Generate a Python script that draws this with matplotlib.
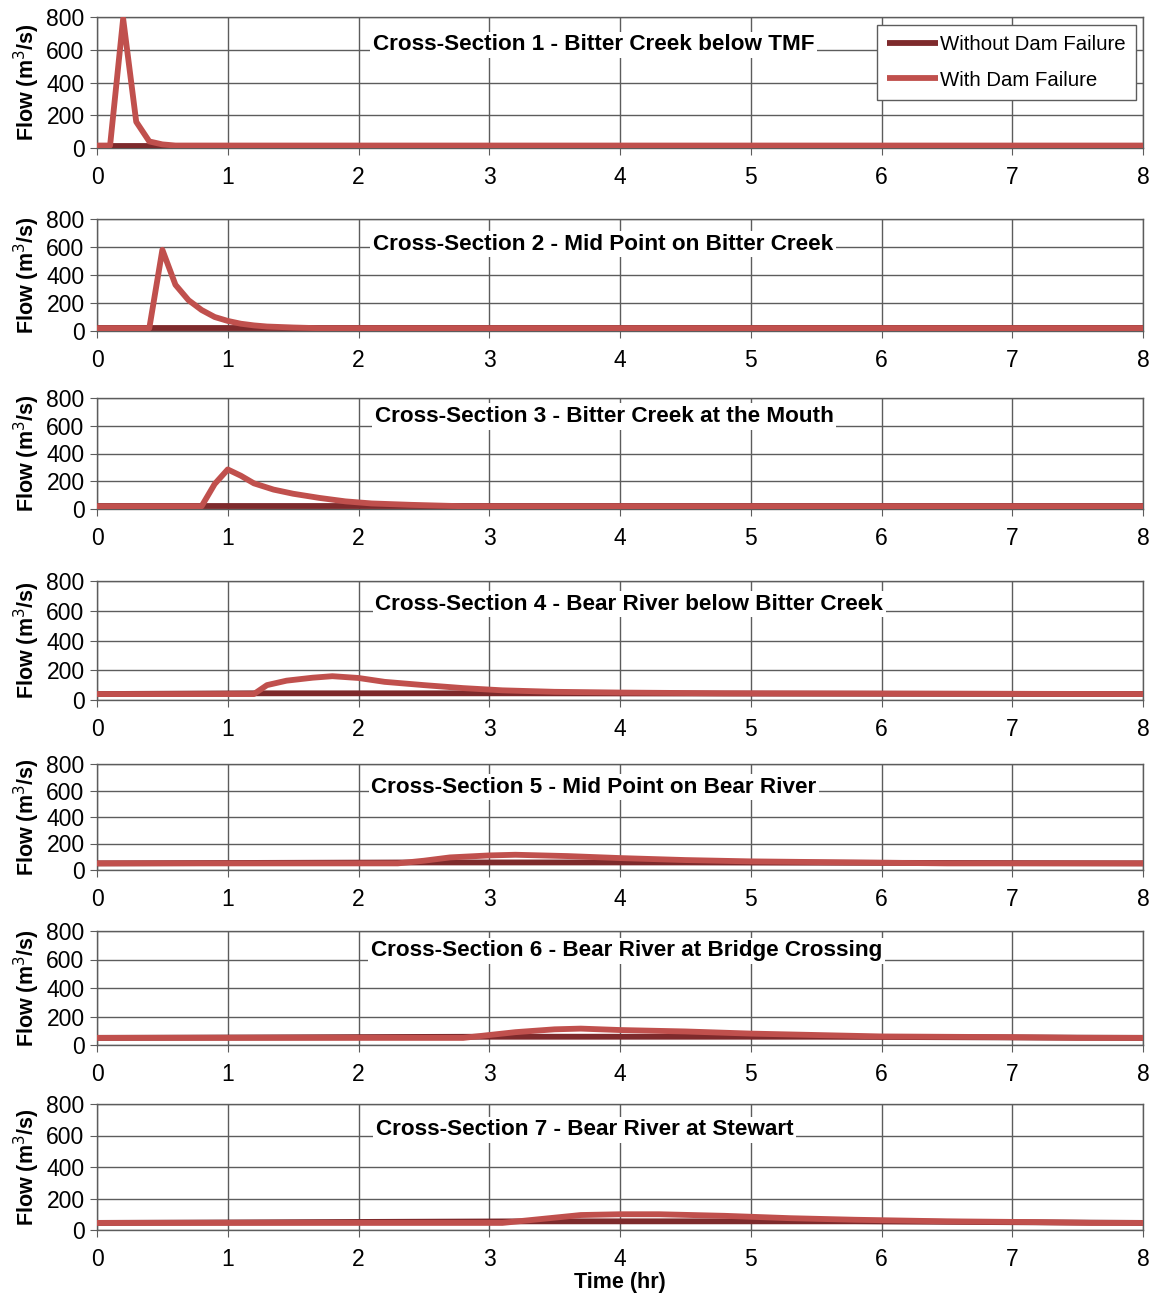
"""Flow hydrographs at 7 cross-sections, with and without dam failure."""
import numpy as np
import matplotlib
matplotlib.use("Agg")
import matplotlib.pyplot as plt

plt.rcParams["font.family"] = ["Liberation Sans", "DejaVu Sans"]

TITLES = [
    "Cross-Section 1 - Bitter Creek below TMF",
    "Cross-Section 2 - Mid Point on Bitter Creek",
    "Cross-Section 3 - Bitter Creek at the Mouth",
    "Cross-Section 4 - Bear River below Bitter Creek",
    "Cross-Section 5 - Mid Point on Bear River",
    "Cross-Section 6 - Bear River at Bridge Crossing",
    "Cross-Section 7 - Bear River at Stewart",
]

# with dam failure (t hr, Q m3/s)
T_WITH = [
    [0, 0.1, 0.2, 0.3, 0.4, 0.5, 0.6, 8],
    [0, 0.4, 0.5, 0.6, 0.7, 0.8, 0.9, 1.0, 1.1, 1.2, 1.3, 1.5, 1.7, 8],
    [0, 0.8, 0.9, 1.0, 1.1, 1.2, 1.35, 1.5, 1.7, 1.9, 2.1, 2.4, 2.8, 8],
    [0, 1.2, 1.3, 1.45, 1.65, 1.8, 2.0, 2.2, 2.5, 2.8, 3.1, 3.5, 4.0, 4.8, 8],
    [0, 2.3, 2.5, 2.7, 3.0, 3.2, 3.6, 4.0, 4.5, 5.0, 5.5, 6.0, 6.5, 8],
    [0, 2.8, 2.9, 3.2, 3.5, 3.7, 4.0, 4.5, 5.0, 5.5, 6.0, 7.0, 7.5, 8],
    [0, 3.1, 3.4, 3.7, 4.0, 4.3, 4.8, 5.3, 5.8, 6.5, 7.2, 7.6, 8],
]
Q_WITH = [
    [15, 15, 790, 160, 40, 22, 15, 15],
    [20, 20, 580, 330, 220, 150, 100, 72, 52, 40, 32, 25, 20, 20],
    [20, 20, 180, 285, 240, 185, 140, 110, 80, 55, 40, 30, 20, 20],
    [40, 40, 100, 130, 150, 160, 148, 122, 100, 80, 65, 55, 50, 45, 40],
    [50, 50, 70, 95, 110, 115, 105, 90, 75, 65, 60, 55, 50, 50],
    [50, 50, 60, 90, 110, 115, 105, 95, 80, 70, 60, 55, 50, 50],
    [45, 45, 70, 95, 100, 100, 90, 75, 65, 55, 50, 45, 45],
]

# without dam failure
T_WITHOUT = [
    [0, 0.45, 8],
    [0, 1.3, 8],
    [0, 2.2, 8],
    [0, 1.2, 3.2, 8],
    [0, 2.5, 4.5, 8],
    [0, 3.0, 5.5, 8],
    [0, 3.3, 5.8, 8],
]
Q_WITHOUT = [
    [15, 15, 15],
    [20, 20, 20],
    [20, 20, 20],
    [40, 45, 45, 40],
    [50, 57, 57, 50],
    [50, 58, 58, 50],
    [45, 55, 55, 45],
]

# pixel layout (top, bottom of each axes)
AX_PX = [(17, 148), (219, 331), (398, 509), (581, 700),
         (764, 870), (931, 1045), (1104, 1230)]
TITLE_POS = [(3.8, 630), (3.87, 620), (3.88, 668), (4.07, 645),
             (3.8, 626), (4.05, 660), (3.73, 635)]

W, H = 1156, 1297
C_WITH = "#C0504D"
C_WITHOUT = "#7E2A2C"
GRID = "#5c5c5c"

fig = plt.figure(figsize=(W / 100, H / 100), dpi=100)
left, right = 97 / W, 1143 / W

for i, (top, bot) in enumerate(AX_PX):
    ax = fig.add_axes([left, 1 - bot / H, right - left, (bot - top) / H])
    ax.plot(T_WITHOUT[i], Q_WITHOUT[i], color=C_WITHOUT, lw=4.2,
            solid_capstyle="butt", label="Without Dam Failure", zorder=3)
    ax.plot(T_WITH[i], Q_WITH[i], color=C_WITH, lw=4.2,
            solid_capstyle="butt", label="With Dam Failure", zorder=4)
    ax.set_xlim(0, 8)
    ax.set_ylim(0, 800)
    ax.set_xticks(range(9))
    ax.set_yticks(range(0, 801, 200))
    ax.grid(True, color=GRID, lw=1.0)
    ax.set_axisbelow(True)
    for s in ax.spines.values():
        s.set_color(GRID)
        s.set_linewidth(1.0)
    ax.tick_params(axis="x", labelsize=16.5, length=5, color=GRID, pad=8)
    ax.tick_params(axis="y", labelsize=16.5, length=5, color=GRID, pad=4)
    ax.set_ylabel("Flow (m$^3$/s)", fontsize=15.5, fontweight="bold", labelpad=3)
    tx, ty = TITLE_POS[i]
    ax.text(tx, ty, TITLES[i], ha="center", va="center", fontsize=16.2,
            fontweight="bold", zorder=5,
            bbox=dict(facecolor="white", edgecolor="none", pad=2))
    if i == 0:
        leg = ax.legend(loc="upper right", fontsize=14.7, frameon=True,
                        fancybox=False, edgecolor=GRID, framealpha=1,
                        handlelength=2.5, handletextpad=0.1,
                        borderpad=0.5, labelspacing=0.8, borderaxespad=0,
                        bbox_to_anchor=(0.9933, 0.939))
        leg.set_zorder(6)
    if i == len(AX_PX) - 1:
        ax.set_xlabel("Time (hr)", fontsize=15.5, fontweight="bold", labelpad=1)

fig.savefig("out.png", dpi=100)
